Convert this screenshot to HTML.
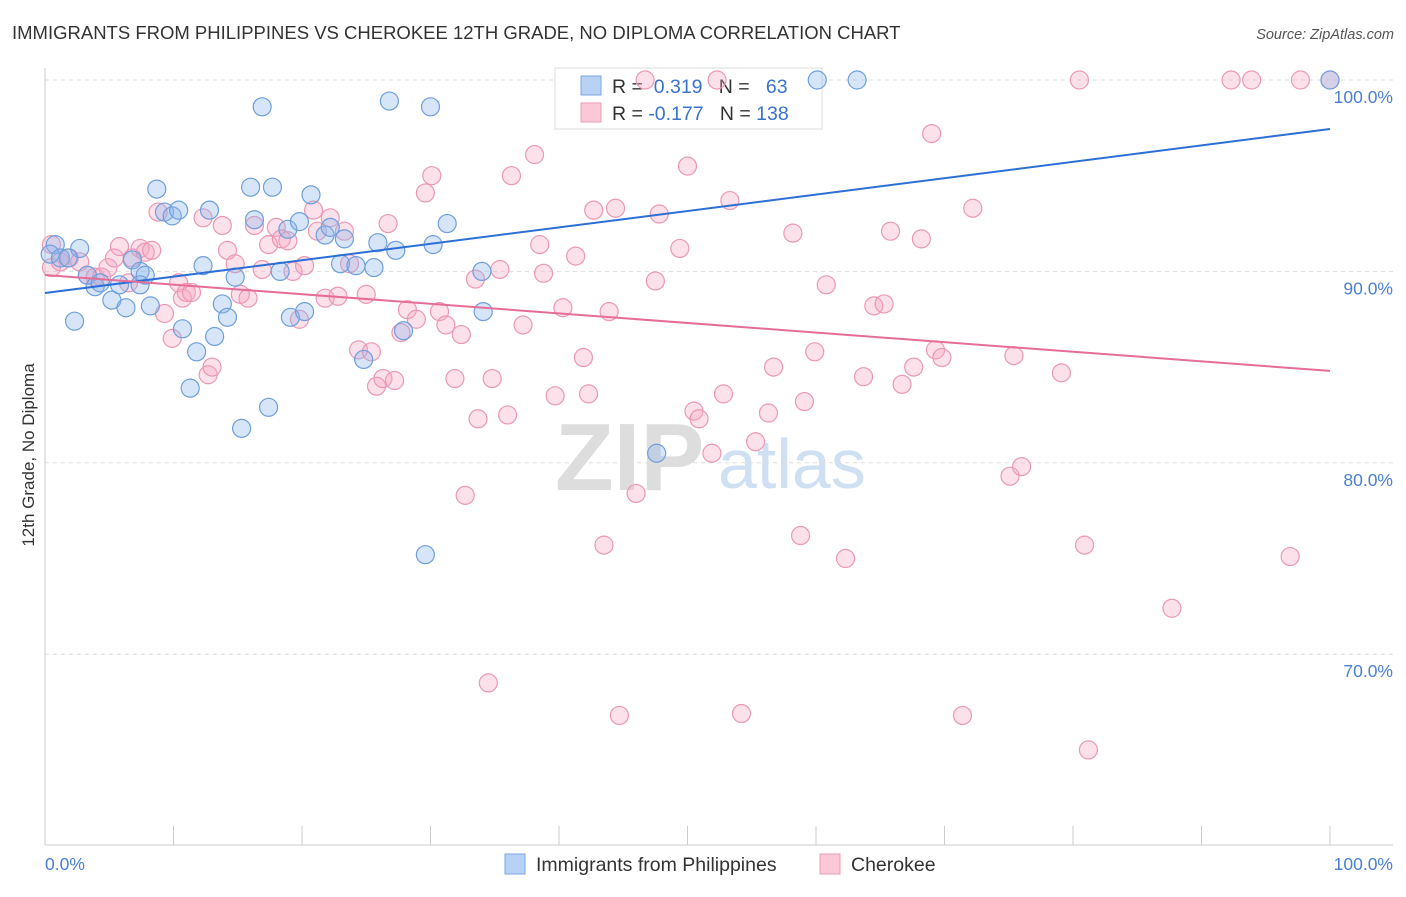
<!DOCTYPE html>
<html><head><meta charset="utf-8"><style>
body{margin:0;background:#fff;font-family:"Liberation Sans",sans-serif;}
svg text{font-family:"Liberation Sans",sans-serif;}
</style></head><body>
<svg id="chart" width="1406" height="892" xmlns="http://www.w3.org/2000/svg">
<text x="12" y="39" font-size="18.5" fill="#333">IMMIGRANTS FROM PHILIPPINES VS CHEROKEE 12TH GRADE, NO DIPLOMA CORRELATION CHART</text>
<text x="1394" y="39" font-size="14.5" fill="#555" font-style="italic" text-anchor="end">Source: ZipAtlas.com</text>
<text transform="translate(34,455) rotate(-90)" font-size="17" fill="#333" text-anchor="middle">12th Grade, No Diploma</text>
<g>
<text x="555" y="490" font-size="96" fill="#ddd" font-family="Liberation Serif" font-weight="bold">ZIP</text>
<text x="718" y="488" font-size="70" fill="#cfe0f3">atlas</text>
</g>
<g id="grid"></g>
<g id="axes"></g>
<g>
<rect x="555" y="68" width="267" height="61" fill="#fff" stroke="#ddd"/>
<rect x="581" y="76" width="20" height="19" fill="#b8d2f5" stroke="#7aa6e0"/>
<rect x="581" y="103" width="20" height="19" fill="#fbc8d8" stroke="#ee9ab6"/>
<text x="612" y="93" font-size="19.5" fill="#333">R = <tspan fill="#3a72d0">&#160;0.319</tspan>&#160;&#160;&#160;N = <tspan fill="#3a72d0">&#160;&#160;63</tspan></text>
<text x="612" y="120" font-size="19.5" fill="#333">R = <tspan fill="#3a72d0">-0.177</tspan>&#160;&#160;&#160;N = <tspan fill="#3a72d0">138</tspan></text>
</g>
<g id="pink"></g>
<g id="blue"></g>
<g id="trends"></g>
<g>
<rect x="505" y="854" width="20" height="20" fill="#b8d2f5" stroke="#7aa6e0"/>
<text x="536" y="871" font-size="19.5" fill="#333">Immigrants from Philippines</text>
<rect x="820" y="854" width="20" height="20" fill="#fbc8d8" stroke="#ee9ab6"/>
<text x="851" y="871" font-size="19.5" fill="#333">Cherokee</text>
</g>
</svg>
<script>
const yTicks=[100,90,80,70];
const yTickLabels=["100.0%","90.0%","80.0%","70.0%"];
const xTicks=[0,10,20,30,40,50,60,70,80,90,100];
const blueX=[0.8,0.4,1.2,2.7,1.8,2.3,3.3,3.9,4.3,5.2,5.8,6.3,6.8,7.4,7.8,7.4,8.2,8.7,9.3,9.9,10.4,10.7,11.3,11.8,12.3,12.8,13.2,13.8,14.2,14.8,15.3,16.0,16.3,16.9,17.4,17.7,18.3,19.1,18.9,19.8,20.2,20.7,21.8,22.2,23.0,23.3,24.2,24.8,25.6,25.9,26.8,27.3,27.9,30.0,30.2,31.3,34.0,34.1,29.6,47.6,60.1,63.2,100];
const blueY=[91.4,90.9,90.7,91.2,90.7,87.4,89.8,89.2,89.4,88.5,89.3,88.1,90.6,90.0,89.8,89.3,88.2,94.3,93.1,92.9,93.2,87.0,83.9,85.8,90.3,93.2,86.6,88.3,87.6,89.7,81.8,94.4,92.7,98.6,82.9,94.4,90.0,87.6,92.2,92.6,87.9,94.0,91.9,92.3,90.4,91.7,90.3,85.4,90.2,91.5,98.9,91.1,86.9,98.6,91.4,92.5,90.0,87.9,75.2,80.5,100,100,100];
const pinkX=[0.5,1.2,1.9,2.7,3.3,3.9,4.4,4.9,5.4,5.8,6.5,6.8,7.4,7.8,8.3,8.8,9.3,9.9,10.4,10.7,11.0,11.4,12.3,12.7,13.0,13.8,14.2,14.8,15.2,15.8,16.3,16.9,17.4,18.0,18.4,18.9,19.3,19.8,20.2,20.9,21.2,21.8,22.2,22.8,23.3,23.7,24.4,25.0,25.4,25.8,26.3,26.7,27.2,27.7,28.2,28.9,29.6,30.1,30.7,31.2,31.9,32.4,32.7,33.5,33.7,34.5,34.8,35.4,36.0,36.3,37.2,38.1,38.5,38.8,39.7,40.3,41.3,41.9,42.3,42.7,43.5,43.9,44.4,44.7,46.0,47.5,47.8,49.4,50.0,50.5,50.9,51.9,52.8,53.3,54.2,55.3,56.3,56.7,58.2,58.8,59.1,59.9,60.8,62.3,63.7,64.5,65.3,65.8,66.7,67.6,68.2,69.0,69.3,69.8,71.4,72.2,75.1,75.4,76.0,79.1,80.5,80.9,81.2,87.7,92.3,93.9,96.9,97.7,100,46.7,52.3,0.5];
const pinkY=[90.2,90.5,90.7,90.5,89.8,89.7,89.7,90.2,90.7,91.3,89.4,90.7,91.2,91.0,91.1,93.1,87.8,86.5,89.4,88.6,88.9,88.9,92.8,84.6,85.0,92.4,91.1,90.4,88.8,88.6,92.4,90.1,91.4,92.3,91.7,91.6,90.0,87.5,90.3,93.2,92.1,88.6,92.8,88.7,92.1,90.4,85.9,88.8,85.8,84.0,84.4,92.5,84.3,86.8,88.0,87.5,94.1,95.0,87.9,87.2,84.4,86.7,78.3,89.6,82.3,68.5,84.4,90.1,82.5,95.0,87.2,96.1,91.4,89.9,83.5,88.1,90.8,85.5,83.6,93.2,75.7,87.9,93.3,66.8,78.4,89.5,93.0,91.2,95.5,82.7,82.3,80.5,83.6,93.7,66.9,81.1,82.6,85.0,92.0,76.2,83.2,85.8,89.3,75.0,84.5,88.2,88.3,92.1,84.1,85.0,91.7,97.2,85.9,85.5,66.8,93.3,79.3,85.6,79.8,84.7,100,75.7,65.0,72.4,100,100,75.1,100,100,100,100,91.4];
const blueTrend=[88.87,97.44];
const pinkTrend=[89.81,84.8];
const NS="http://www.w3.org/2000/svg";
const X=v=>45+v*12.85;
const Y=v=>80+(100-v)*19.14;
function mk(tag,attrs,parent){const e=document.createElementNS(NS,tag);for(const k in attrs)e.setAttribute(k,attrs[k]);parent.appendChild(e);return e;}
const grid=document.getElementById('grid'),axes=document.getElementById('axes');
yTicks.forEach((t,i)=>{
 const l=mk('line',{x1:45,x2:1393,y1:Y(t),y2:Y(t),stroke:'#ddd','stroke-dasharray':'4,4'},grid);
 
 
 const tx=mk('text',{x:1393,y:Y(t)+23,'font-size':17.5,fill:'#4a7fd6','text-anchor':'end'},axes);
 tx.textContent=yTickLabels[i];
 
 
});
let a=mk('line',{x1:45,x2:45,y1:68,y2:845,stroke:'#ccc'},axes);


a=mk('line',{x1:45,x2:1393,y1:845,y2:845,stroke:'#ccc'},axes);


xTicks.forEach(t=>{
 const l=mk('line',{x1:X(t),x2:X(t),y1:826,y2:845,stroke:'#ccc'},axes);
 
 
});
let t=mk('text',{x:45,y:870,'font-size':17.5,fill:'#4a7fd6'},axes);t.textContent='0.0%';


t=mk('text',{x:1393,y:870,'font-size':17.5,fill:'#4a7fd6','text-anchor':'end'},axes);t.textContent='100.0%';


const pg=document.getElementById('pink'),bg=document.getElementById('blue');
pinkX.forEach((x,i)=>{
 const c=mk('circle',{cx:X(x),cy:Y(pinkY[i]),r:9,fill:'rgba(245,165,195,0.35)',stroke:'#eb98b5','stroke-width':1.2},pg);
 
 
});
blueX.forEach((x,i)=>{
 const c=mk('circle',{cx:X(x),cy:Y(blueY[i]),r:9,fill:'rgba(140,180,235,0.35)',stroke:'#6f9fdc','stroke-width':1.2},bg);
 
 
});
const tg=document.getElementById('trends');
let l=mk('line',{x1:X(0),y1:Y(blueTrend[0]),x2:X(100),y2:Y(blueTrend[1]),stroke:'#2c6fd6','stroke-width':2},tg);


l=mk('line',{x1:X(0),y1:Y(pinkTrend[0]),x2:X(100),y2:Y(pinkTrend[1]),stroke:'#e56d98','stroke-width':2},tg);


</script>
</body></html>
